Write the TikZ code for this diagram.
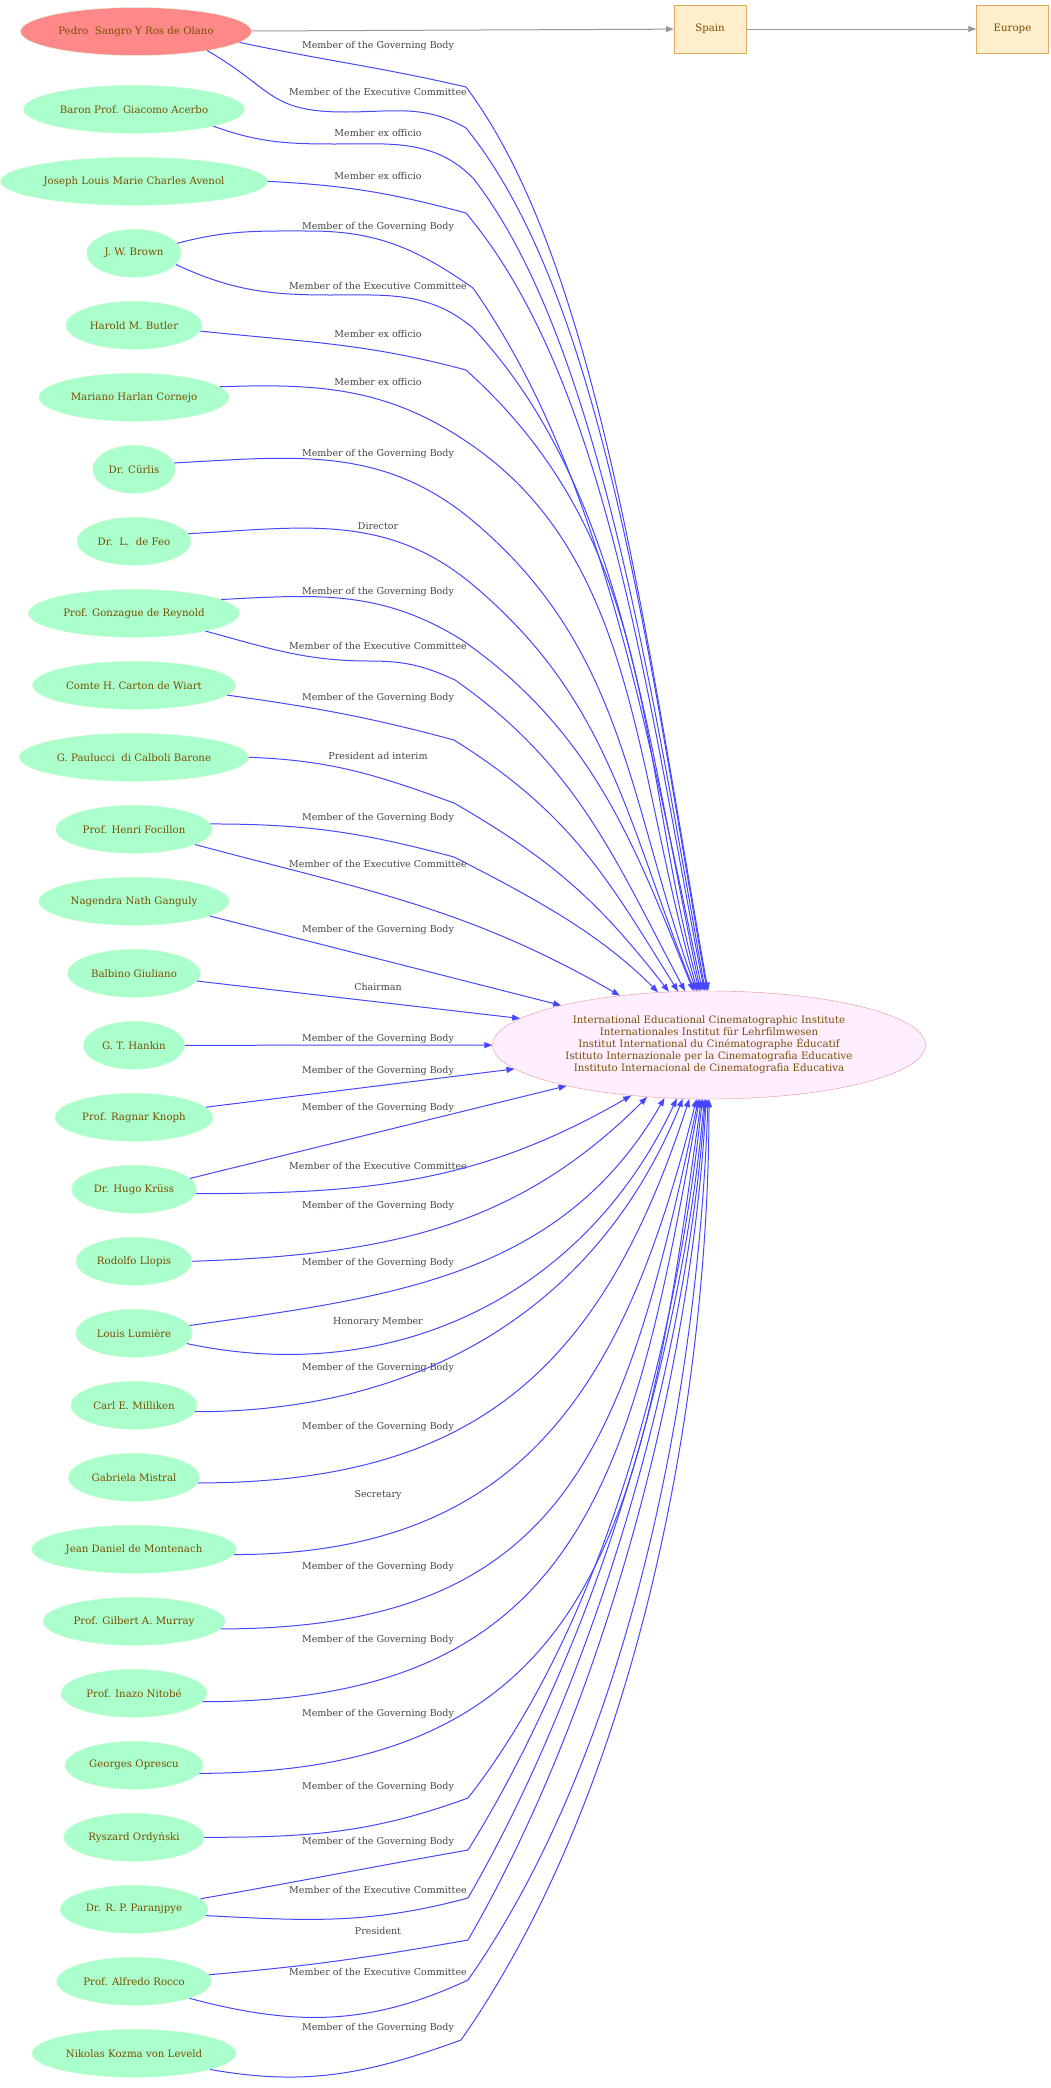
\documentclass[tikz,border=0pt]{standalone}
\usepackage{fontspec}
\setmainfont{DejaVu Serif}
\usetikzlibrary{shapes.geometric,arrows.meta}

\definecolor{namebrown}{HTML}{7A4E00}
\definecolor{personfill}{HTML}{AAFFCC}
\definecolor{personline}{HTML}{D4FAD4}
\definecolor{leadfill}{HTML}{FF8888}
\definecolor{instfill}{HTML}{FFEEFF}
\definecolor{instline}{HTML}{E89494}
\definecolor{placefill}{HTML}{FFEECC}
\definecolor{placeline}{HTML}{E0AA60}
\definecolor{relblue}{HTML}{4646FF}
\definecolor{linkgray}{HTML}{999999}
\definecolor{labelgray}{HTML}{444444}

\begin{document}
\begin{tikzpicture}[x=1pt, y=1pt,
    person/.style={ellipse, draw=personline, fill=personfill, text=namebrown, minimum height=48pt, inner xsep=4pt, font=\fontsize{10.2}{12}\selectfont},
    place/.style={rectangle, draw=placeline, fill=placefill, text=namebrown, minimum width=72pt, minimum height=48pt, font=\fontsize{10.2}{12}\selectfont},
    lbl/.style={text=labelgray, inner sep=0pt, font=\fontsize{9.5}{11}\selectfont},
    rel/.style={draw=relblue, line width=1pt, -{Triangle[length=8pt,width=6pt]}},
    link/.style={draw=linkgray, line width=1pt, -{Triangle[length=8pt,width=6pt]}}]

        \useasboundingbox (0,0) rectangle (1051,-2088);

        % ------------------ Institute and places ------------------

        \node[ellipse, draw=instline, fill=instfill, text=namebrown, minimum width=433pt, minimum height=108pt, align=center, font=\fontsize{10.2}{12}\selectfont] (inst) at (709,-1045) {International Educational Cinematographic Institute\\Internationales Institut für Lehrfilmwesen\\Institut International du Cinématographe Éducatif\\Istituto Internazionale per la Cinematografia Educative\\Instituto Internacional de Cinematografia Educativa};

        \node[place] (spain) at (710,-29) {Spain};
        \node[place] (europe) at (1012.5,-29) {Europe};

        % ------------------ People ------------------

        \node[person, fill=leadfill] (pedro) at (136,-31.5) {Pedro\ \ Sangro Y Ros de Olano};
        \node[person] (acerbo) at (134,-109.3) {Baron Prof. Giacomo Acerbo};
        \node[person] (avenol) at (134,-181.3) {Joseph Louis Marie Charles Avenol};
        \node[person] (brown) at (134,-253.3) {J. W. Brown};
        \node[person] (butler) at (134,-325.3) {Harold M. Butler};
        \node[person] (cornejo) at (134,-397.3) {Mariano Harlan Cornejo};
        \node[person] (curlis) at (134,-469.3) {Dr. Cürlis};
        \node[person] (feo) at (134,-541.3) {Dr.\ \ L.\ \ de Feo};
        \node[person] (reynold) at (134,-613.3) {Prof. Gonzague de Reynold};
        \node[person] (wiart) at (134,-685.3) {Comte H. Carton de Wiart};
        \node[person] (paulucci) at (134,-757.3) {G. Paulucci\ \ di Calboli Barone};
        \node[person] (focillon) at (134,-829.3) {Prof. Henri Focillon};
        \node[person] (ganguly) at (134,-901.3) {Nagendra Nath Ganguly};
        \node[person] (giuliano) at (134,-973.3) {Balbino Giuliano};
        \node[person] (hankin) at (134,-1045.3) {G. T. Hankin};
        \node[person] (knoph) at (134,-1117.3) {Prof. Ragnar Knoph};
        \node[person] (kruss) at (134,-1189.3) {Dr. Hugo Krüss};
        \node[person] (llopis) at (134,-1261.3) {Rodolfo Llopis};
        \node[person] (lumiere) at (134,-1333.3) {Louis Lumière};
        \node[person] (milliken) at (134,-1405.3) {Carl E. Milliken};
        \node[person] (mistral) at (134,-1477.3) {Gabriela Mistral};
        \node[person] (montenach) at (134,-1549.3) {Jean Daniel de Montenach};
        \node[person] (murray) at (134,-1621.3) {Prof. Gilbert A. Murray};
        \node[person] (nitobe) at (134,-1693.3) {Prof. Inazo Nitobé};
        \node[person] (oprescu) at (134,-1765.3) {Georges Oprescu};
        \node[person] (ordynski) at (134,-1837.3) {Ryszard Ordyński};
        \node[person] (paranjpye) at (134,-1909.3) {Dr. R. P. Paranjpye};
        \node[person] (rocco) at (134,-1981.3) {Prof. Alfredo Rocco};
        \node[person] (leveld) at (134,-2053.3) {Nikolas Kozma von Leveld};

        % Location arrows
        \draw[link] (pedro) -- (spain);
        \draw[link] (spain) -- (europe);

        % ------------------ Roles ------------------

        \node[lbl] (l1) at (378,-45.5) {Member of the Governing Body};
        \node[lbl] (l2) at (378,-91.7) {Member of the Executive Committee};
        \node[lbl] (l3) at (378,-133.3) {Member ex officio};
        \node[lbl] (l4) at (378,-175.7) {Member ex officio};
        \node[lbl] (l5) at (378,-226.7) {Member of the Governing Body};
        \node[lbl] (l6) at (378,-285.7) {Member of the Executive Committee};
        \node[lbl] (l7) at (378,-333.7) {Member ex officio};
        \node[lbl] (l8) at (378,-381.5) {Member ex officio};
        \node[lbl] (l9) at (378,-454.3) {Member of the Governing Body};
        \node[lbl] (l10) at (378,-525.7) {Director};
        \node[lbl] (l11) at (378,-591.7) {Member of the Governing Body};
        \node[lbl] (l12) at (378,-645.7) {Member of the Executive Committee};
        \node[lbl] (l13) at (378,-698.3) {Member of the Governing Body};
        \node[lbl] (l14) at (378,-755.7) {President ad interim};
        \node[lbl] (l15) at (378,-818.3) {Member of the Governing Body};
        \node[lbl] (l16) at (378,-863.7) {Member of the Executive Committee};
        \node[lbl] (l17) at (378,-930.3) {Member of the Governing Body};
        \node[lbl] (l18) at (378,-986.7) {Chairman};
        \node[lbl] (l19) at (378,-1039.3) {Member of the Governing Body};
        \node[lbl] (l20) at (378,-1070.7) {Member of the Governing Body};
        \node[lbl] (l21) at (378,-1107.7) {Member of the Governing Body};
        \node[lbl] (l22) at (378,-1165.7) {Member of the Executive Committee};
        \node[lbl] (l23) at (378,-1205.7) {Member of the Governing Body};
        \node[lbl] (l24) at (378,-1262.7) {Member of the Governing Body};
        \node[lbl] (l25) at (378,-1321.7) {Honorary Member};
        \node[lbl] (l26) at (378,-1367.7) {Member of the Governing Body};
        \node[lbl] (l27) at (378,-1426.7) {Member of the Governing Body};
        \node[lbl] (l28) at (378,-1494.7) {Secretary};
        \node[lbl] (l29) at (378,-1566.7) {Member of the Governing Body};
        \node[lbl] (l30) at (378,-1639.7) {Member of the Governing Body};
        \node[lbl] (l31) at (378,-1713.7) {Member of the Governing Body};
        \node[lbl] (l32) at (378,-1786.7) {Member of the Governing Body};
        \node[lbl] (l33) at (378,-1842.3) {Member of the Governing Body};
        \node[lbl] (l34) at (378,-1889.7) {Member of the Executive Committee};
        \node[lbl] (l35) at (378,-1930.7) {President};
        \node[lbl] (l36) at (378,-1971.7) {Member of the Executive Committee};
        \node[lbl] (l37) at (378,-2027.7) {Member of the Governing Body};

        % Arrows from above
        \draw[rel] (pedro.-6) to[out=-12,in=167] (466,-87) .. controls +(-53:220) and +(100:350) .. (inst.91);
        \draw[rel] (pedro.-15) to[out=-30,in=180,looseness=1.3] (345,-112) to[out=0,in=150] (466,-128) .. controls +(-51:220) and +(100:330) .. (inst.92.7);
        \draw[rel] (acerbo.-12) to[out=-20,in=180] (335,-144) to[out=0,in=135] (473,-178) .. controls +(-52:200) and +(100:320) .. (inst.94.2);
        \draw[rel] (avenol.0) to[out=-3,in=165] (466,-213) .. controls +(-50:220) and +(101:300) .. (inst.95.8);
        \draw[rel] (brown.13) to[out=15,in=180] (310,-231) to[out=0,in=145] (473,-288) .. controls +(-55:220) and +(102:280) .. (inst.97.4);
        \draw[rel] (brown.-15) to[out=-25,in=180] (330,-295) to[out=0,in=140] (473,-328) .. controls +(-47:220) and +(102:270) .. (inst.99);
        \draw[rel] (butler.-5) to[out=-6,in=165] (466,-370) .. controls +(-42:260) and +(105:250) .. (inst.100.5);
        \draw[rel] (cornejo.7) to[out=2,in=145] (473,-446) .. controls +(-35:200) and +(106:230) .. (inst.102);
        \draw[rel] (curlis.9) to[out=3,in=140] (473,-521) .. controls +(-40:200) and +(110:200) .. (inst.103.5);
        \draw[rel] (feo.8) to[out=3,in=140] (473,-585) .. controls +(-40:180) and +(112:180) .. (inst.105);
        \draw[rel] (reynold.9) to[out=3,in=148] (462,-640) .. controls +(-35:160) and +(112:160) .. (inst.106.5);
        \draw[rel] (reynold.-14) to[out=-15,in=180] (370,-661) to[out=0,in=155] (455,-680) .. controls +(-35:150) and +(118:150) .. (inst.114.1);
        \draw[rel] (wiart.-6) to[out=-8,in=165] (454,-740) .. controls +(-32:140) and +(122:130) .. (inst.120.1);
        \draw[rel] (paulucci.0) to[out=-2,in=160] (454,-803) .. controls +(-30:120) and +(128:110) .. (inst.127.7);
        \draw[rel] (focillon.4) to[out=0,in=165] (454,-857) .. controls +(-27:100) and +(135:80) .. (inst.134.8);
        \draw[rel] (focillon.-14) to[out=-15,in=150] (inst.151.1);

        % Arrows from the side
        \draw[rel] (ganguly.-11) -- (inst.165.6);
        \draw[rel] (giuliano.-7) -- (inst.172.9);
        \draw[rel] (hankin) -- (inst);
        \draw[rel] (knoph.8) -- (inst.187);
        \draw[rel] (kruss.11) -- (inst.196.4);

        % Arrows from below
        \draw[rel] (kruss.-4) to[out=0,in=210] (inst.213.3);
        \draw[rel] (llopis.0) to[out=2,in=225] (inst.220.3);
        \draw[rel] (lumiere.8) to[out=8,in=240] (inst.230.2);
        \draw[rel] (lumiere.-11) to[out=-12,in=245] (inst.239.9);
        \draw[rel] (milliken.-6) to[out=0,in=248] (inst.244.1);
        \draw[rel] (mistral.-5) to[out=0,in=252,looseness=1.15] (inst.250.5);
        \draw[rel] (montenach.-3) to[out=0,in=256,looseness=1.15] (inst.257.5);
        \draw[rel] (murray.-5) to[out=0,in=258,looseness=1.25] (inst.259);
        \draw[rel] (nitobe.-7) to[out=0,in=260,looseness=1.25] (inst.260.5);
        \draw[rel] (oprescu.-7) to[out=0,in=262,looseness=1.25] (inst.262);
        \draw[rel] (ordynski.0) to[out=0,in=200] (468,-1798) to[out=52,in=264,looseness=.8] (inst.263.7);
        \draw[rel] (paranjpye.9) to[out=10,in=190] (468,-1850) to[out=58,in=265,looseness=.8] (inst.265.2);
        \draw[rel] (paranjpye.-5) to[out=-3,in=195] (468,-1898) to[out=60,in=266,looseness=.8] (inst.266.8);
        \draw[rel] (rocco.5) to[out=5,in=190] (468,-1940) to[out=60,in=267,looseness=.8] (inst.267.9);
        \draw[rel] (rocco.-17) to[out=-15,in=205] (468,-1980) to[out=55,in=268,looseness=.8] (inst.269);
        \draw[rel] (leveld.-12) to[out=-10,in=200] (461,-2040) to[out=55,in=270,looseness=.8] (inst.270.5);

    \end{tikzpicture}
\end{document}
